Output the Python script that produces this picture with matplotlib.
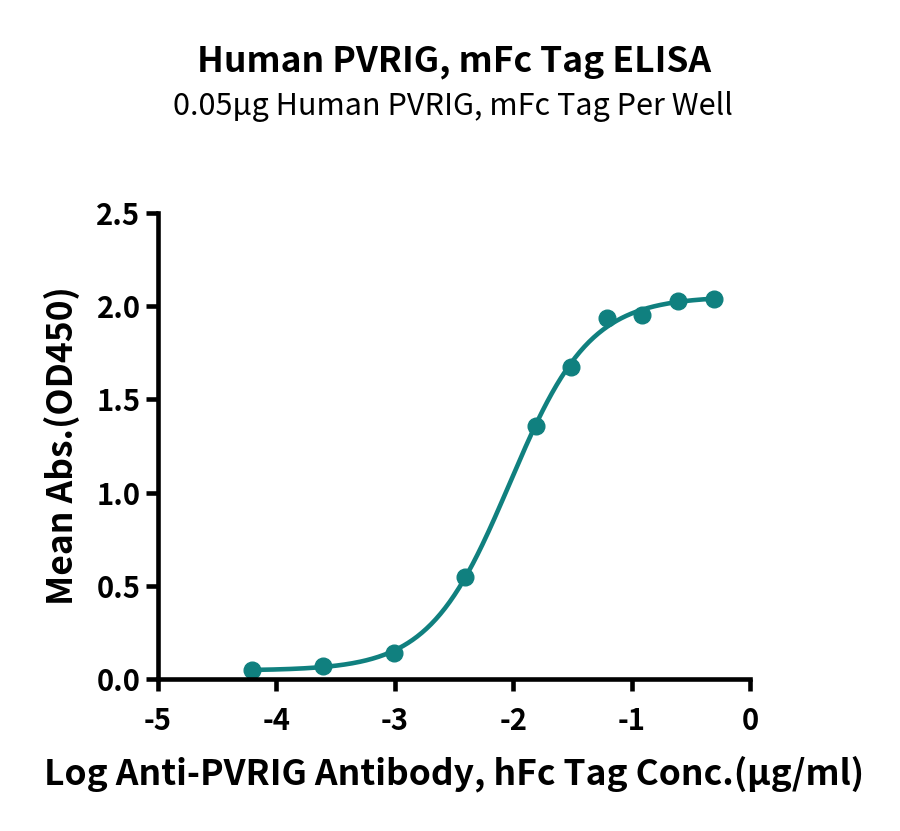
import numpy as np
import matplotlib
matplotlib.use("Agg")
import matplotlib.pyplot as plt

plt.rcParams['font.family'] = ['Noto Sans CJK SC', 'DejaVu Sans']

# log10 of antibody concentration (ug/ml) and mean OD450
log_conc = [-4.21, -3.61, -3.01, -2.41, -1.81, -1.51, -1.21, -0.91, -0.61, -0.30]
mean_abs = [0.05, 0.069, 0.141, 0.547, 1.359, 1.675, 1.937, 1.955, 2.027, 2.036]

title = "Human PVRIG, mFc Tag ELISA"
subtitle = "0.05\u00b5g Human PVRIG, mFc Tag Per Well"
xlab = "Log Anti-PVRIG Antibody, hFc Tag Conc.(\u00b5g/ml)"
ylab = "Mean Abs.(OD450)"
teal = '#10807f'

x = np.array(log_conc)
y = np.array(mean_abs)

# 4PL fit: grid search on ec50/hill, least squares for bottom/top
best = None
for ec in np.linspace(-3, -1, 201):
    for h in np.linspace(0.5, 3, 126):
        s = 1.0 / (1.0 + 10 ** ((ec - x) * h))
        A = np.column_stack([1 - s, s])
        coef, res, _, _ = np.linalg.lstsq(A, y, rcond=None)
        err = np.sum((A @ coef - y) ** 2)
        if best is None or err < best[0]:
            best = (err, ec, h, coef)
_, ec50, hill, (bottom, top) = best

xf = np.linspace(x.min(), x.max(), 300)
yf = bottom + (top - bottom) / (1 + 10 ** ((ec50 - xf) * hill))

fig = plt.figure(figsize=(9, 8.31), dpi=100)
ax = fig.add_axes([0.1756, 0.1829, 0.6577, 0.5608])

ax.plot(xf, yf, color=teal, lw=3.3, solid_capstyle='round')
ax.plot(x, y, 'o', color=teal, ms=12)

ax.set_xlim(-5, 0)
ax.set_ylim(0, 2.5)
ax.set_xticks([-5, -4, -3, -2, -1, 0])
ax.set_xticklabels(['-5', '-4', '-3', '-2', '-1', '0'])
ax.set_yticks([0, 0.5, 1.0, 1.5, 2.0, 2.5])
ax.set_yticklabels(['0.0', '0.5', '1.0', '1.5', '2.0', '2.5'])

for side in ['top', 'right']:
    ax.spines[side].set_visible(False)
for side in ['left', 'bottom']:
    ax.spines[side].set_linewidth(3.3)
ax.tick_params(direction='out', length=8.6, width=3.3, labelsize=21)
ax.tick_params(axis='x', pad=11)
ax.tick_params(axis='y', pad=4)
for lab in ax.get_xticklabels() + ax.get_yticklabels():
    lab.set_fontweight('bold')

ax.set_xlabel(xlab, fontsize=25.5, fontweight='bold', labelpad=14)
ax.set_ylabel(ylab, fontsize=25.5, fontweight='bold', labelpad=12)

fig.text(0.505, 0.926, title, ha='center', va='center', fontsize=25.5, fontweight='bold')
fig.text(0.503, 0.872, subtitle, ha='center', va='center', fontsize=22)

fig.savefig('out.png', dpi=100)
